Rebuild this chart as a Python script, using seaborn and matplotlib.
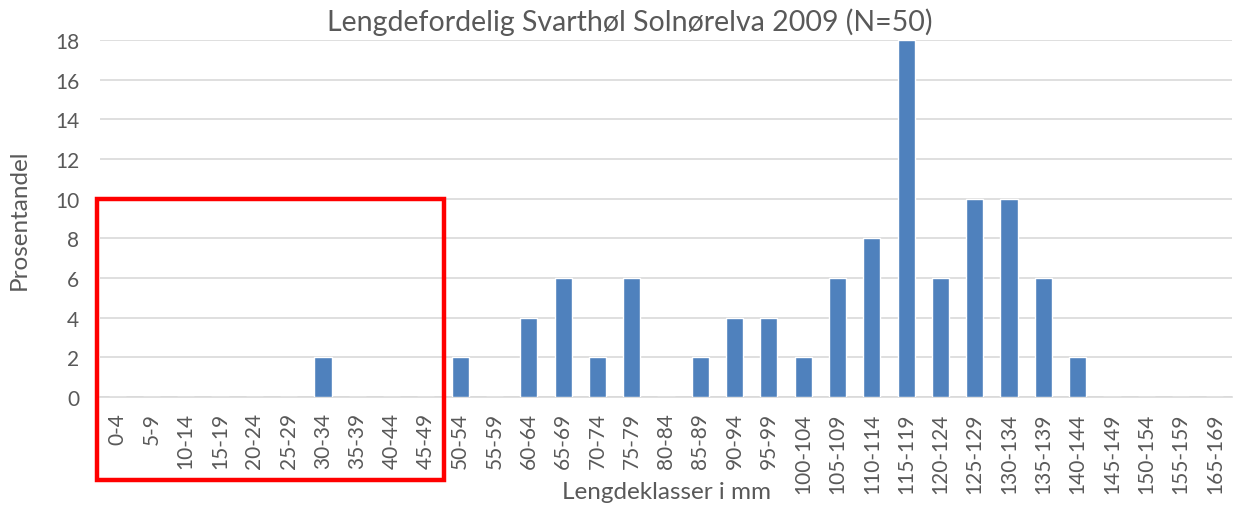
import matplotlib
matplotlib.use("Agg")
import matplotlib.pyplot as plt
import seaborn as sns
import pandas as pd
from matplotlib.patches import Rectangle

# length classes (160-164 is absent in the original)
klasser = ["0-4", "5-9", "10-14", "15-19", "20-24", "25-29", "30-34", "35-39",
           "40-44", "45-49", "50-54", "55-59", "60-64", "65-69", "70-74",
           "75-79", "80-84", "85-89", "90-94", "95-99", "100-104", "105-109",
           "110-114", "115-119", "120-124", "125-129", "130-134", "135-139",
           "140-144", "145-149", "150-154", "155-159", "165-169"]
prosent = [0, 0, 0, 0, 0, 0, 2, 0, 0, 0, 2, 0, 4, 6, 2, 6, 0, 2, 4, 4, 2, 6,
           8, 18, 6, 10, 10, 6, 2, 0, 0, 0, 0]
yticks = list(range(0, 19, 2))

sns.set_style("white")
plt.rcParams['font.family'] = ['Lato', 'DejaVu Sans']
grey = "#595959"

df = pd.DataFrame({"klasse": klasser, "prosent": prosent})

fig = plt.figure(figsize=(12.4, 5.1), dpi=100)
ax = fig.add_axes([100/1240, 1-398/510, 1132/1240, 357/510])

sns.barplot(data=df, x="klasse", y="prosent", color="#4F81BD",
            width=0.5, saturation=1, ax=ax, zorder=3)

ax.set_xlim(-0.5, len(klasser) - 0.5)
ax.set_ylim(0, 18)
ax.set_yticks(yticks)
ax.yaxis.grid(True, color="#D9D9D9", linewidth=1.2, zorder=0)
for s in ["top", "right", "left"]:
    ax.spines[s].set_visible(False)
ax.spines["bottom"].set_color("#D9D9D9")
ax.spines["bottom"].set_linewidth(1.2)
ax.tick_params(axis="both", length=0, colors=grey, labelsize=15)
ax.tick_params(axis="x", pad=11)
ax.tick_params(axis="y", pad=15)
plt.setp(ax.get_xticklabels(), rotation=90, va="top", ha="center")

ax.set_xlabel("Lengdeklasser i mm", color=grey, fontsize=17.5)
ax.xaxis.set_label_coords(0.5, -0.235)
ax.set_ylabel("Prosentandel", color=grey, fontsize=17.5)
ax.yaxis.set_label_coords(-0.062, 0.5)
fig.text(630/1240, 1-22/510, "Lengdefordelig Svarthøl Solnørelva 2009 (N=50)",
         color=grey, fontsize=20.5, ha="center", va="center")

# red highlight box
fig.patches.append(Rectangle((97/1240, 1-481/510), 347/1240, 281/510,
                             transform=fig.transFigure, fill=False,
                             edgecolor="#FF0000", linewidth=3.2))

fig.savefig("out.png", dpi=100)
